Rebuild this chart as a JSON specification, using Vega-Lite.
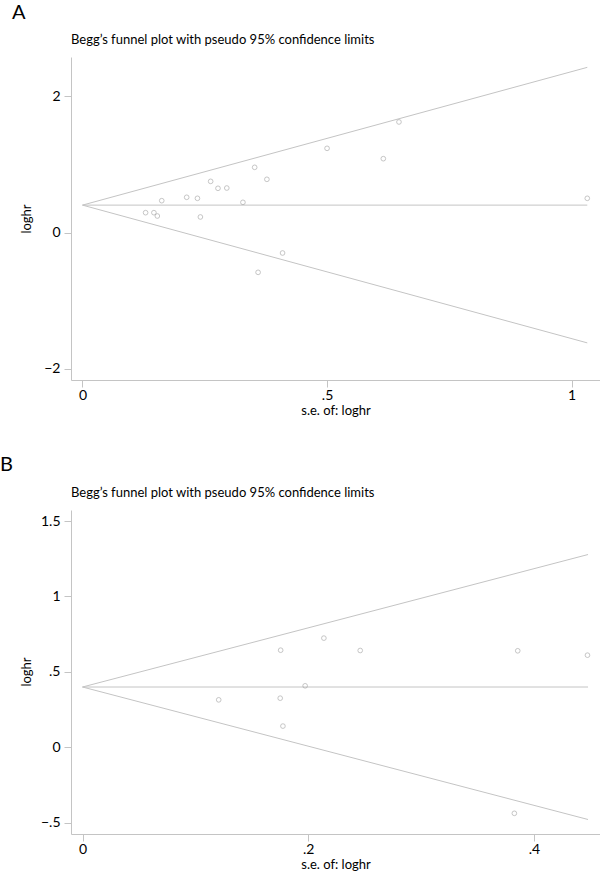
{
  "$schema": "https://vega.github.io/schema/vega-lite/v6.json",
  "padding": {"left": 0, "top": 3, "right": 0, "bottom": 0},
  "background": "white",
  "datasets": {
    "linesA": [
      {"x1": 0, "y1": 0.405, "x2": 1.032, "y2": 2.428},
      {"x1": 0, "y1": 0.405, "x2": 1.032, "y2": 0.405},
      {"x1": 0, "y1": 0.405, "x2": 1.032, "y2": -1.618}
    ],
    "ptsA": [
      {"se": 0.129, "loghr": 0.294},
      {"se": 0.146, "loghr": 0.294},
      {"se": 0.153, "loghr": 0.245},
      {"se": 0.162, "loghr": 0.470},
      {"se": 0.213, "loghr": 0.520},
      {"se": 0.235, "loghr": 0.505},
      {"se": 0.241, "loghr": 0.231},
      {"se": 0.262, "loghr": 0.754},
      {"se": 0.277, "loghr": 0.652},
      {"se": 0.295, "loghr": 0.656},
      {"se": 0.328, "loghr": 0.446},
      {"se": 0.352, "loghr": 0.960},
      {"se": 0.359, "loghr": -0.582},
      {"se": 0.377, "loghr": 0.784},
      {"se": 0.409, "loghr": -0.298},
      {"se": 0.500, "loghr": 1.239},
      {"se": 0.615, "loghr": 1.087},
      {"se": 0.647, "loghr": 1.626},
      {"se": 1.032, "loghr": 0.505}
    ],
    "linesB": [
      {"x1": 0, "y1": 0.40, "x2": 0.448, "y2": 1.278},
      {"x1": 0, "y1": 0.40, "x2": 0.448, "y2": 0.40},
      {"x1": 0, "y1": 0.40, "x2": 0.448, "y2": -0.478}
    ],
    "ptsB": [
      {"se": 0.1207, "loghr": 0.315},
      {"se": 0.1756, "loghr": 0.644},
      {"se": 0.1752, "loghr": 0.326},
      {"se": 0.1776, "loghr": 0.141},
      {"se": 0.1973, "loghr": 0.408},
      {"se": 0.2139, "loghr": 0.724},
      {"se": 0.2461, "loghr": 0.642},
      {"se": 0.3857, "loghr": 0.640},
      {"se": 0.3827, "loghr": -0.437},
      {"se": 0.4475, "loghr": 0.611}
    ]
  },
  "config": {
    "font": "Lato",
    "view": {"stroke": null},
    "axis": {
      "grid": false,
      "domainColor": "#c4c4c4",
      "tickColor": "#c4c4c4",
      "domainWidth": 1,
      "tickWidth": 1,
      "tickSize": 7,
      "labelFont": "Lato",
      "labelFontSize": 14,
      "labelColor": "black",
      "labelPadding": 4,
      "titleFont": "Lato",
      "titleFontSize": 13,
      "titleFontWeight": "normal",
      "titleColor": "black"
    },
    "axisY": {"labelAngle": 0, "titleX": -45, "titleY": 161.5, "titleAlign": "center", "titleBaseline": "middle", "titleAngle": -90},
    "axisX": {"labelPadding": 1, "titlePadding": 2}
  },
  "spacing": 38,
  "vconcat": [
    {
      "title": {"text": "A", "anchor": "start", "frame": "bounds", "fontSize": 20, "fontWeight": "normal", "font": "Lato", "dx": -8, "offset": 11, "color": "black"},
      "vconcat": [
        {
          "title": {"text": "Begg’s funnel plot with pseudo 95% confidence limits", "anchor": "start", "frame": "group", "fontSize": 13, "fontWeight": "normal", "font": "Lato", "offset": 10, "color": "black"},
          "width": 529,
          "height": 323,
          "layer": [
            {
              "data": {"name": "linesA"},
              "mark": {"type": "rule", "color": "#c4c4c4", "strokeWidth": 1},
              "encoding": {
                "x": {"field": "x1", "type": "quantitative", "scale": {"domain": [-0.0235, 1.058], "nice": false, "zero": false}, "axis": {"values": [0, 0.5, 1], "format": ".1~f", "labelExpr": "replace(datum.label, '0.', '.')"}, "title": "s.e. of: loghr"},
                "y": {"field": "y1", "type": "quantitative", "scale": {"domain": [-2.163, 2.58], "nice": false, "zero": false}, "axis": {"values": [-2, 0, 2], "format": "~g"}, "title": "loghr"},
                "x2": {"field": "x2"},
                "y2": {"field": "y2"}
              }
            },
            {
              "data": {"name": "ptsA"},
              "mark": {"type": "point", "shape": "circle", "size": 22, "color": "#9a9a9a", "strokeWidth": 0.8, "filled": false},
              "encoding": {
                "x": {"field": "se", "type": "quantitative", "title": "s.e. of: loghr"},
                "y": {"field": "loghr", "type": "quantitative", "title": "loghr"}
              }
            }
          ]
        }
      ]
    },
    {
      "title": {"text": "B", "anchor": "start", "frame": "bounds", "fontSize": 20, "fontWeight": "normal", "font": "Lato", "dx": -20, "offset": 12, "color": "black"},
      "vconcat": [
        {
          "title": {"text": "Begg’s funnel plot with pseudo 95% confidence limits", "anchor": "start", "frame": "group", "fontSize": 13, "fontWeight": "normal", "font": "Lato", "offset": 10, "color": "black"},
          "width": 529,
          "height": 324,
          "layer": [
            {
              "data": {"name": "linesB"},
              "mark": {"type": "rule", "color": "#c4c4c4", "strokeWidth": 1},
              "encoding": {
                "x": {"field": "x1", "type": "quantitative", "scale": {"domain": [-0.0102, 0.4586], "nice": false, "zero": false}, "axis": {"values": [0, 0.2, 0.4], "format": ".1~f", "labelExpr": "replace(datum.label, '0.', '.')"}, "title": "s.e. of: loghr"},
                "y": {"field": "y1", "type": "quantitative", "scale": {"domain": [-0.574, 1.573], "nice": false, "zero": false}, "axis": {"values": [-0.5, 0, 0.5, 1, 1.5], "format": ".1~f", "labelExpr": "replace(datum.label, '0.', '.')"}, "title": "loghr"},
                "x2": {"field": "x2"},
                "y2": {"field": "y2"}
              }
            },
            {
              "data": {"name": "ptsB"},
              "mark": {"type": "point", "shape": "circle", "size": 22, "color": "#9a9a9a", "strokeWidth": 0.8, "filled": false},
              "encoding": {
                "x": {"field": "se", "type": "quantitative", "title": "s.e. of: loghr"},
                "y": {"field": "loghr", "type": "quantitative", "title": "loghr"}
              }
            }
          ]
        }
      ]
    }
  ]
}
